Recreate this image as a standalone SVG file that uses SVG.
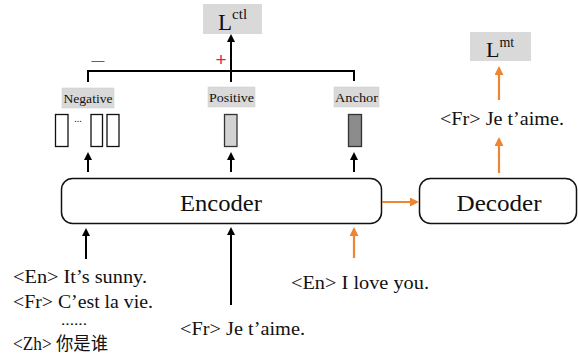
<svg xmlns="http://www.w3.org/2000/svg" width="578" height="354" viewBox="0 0 578 354">
<defs>
<style>
.t{font-family:"Liberation Serif","Noto Sans CJK SC",serif;fill:#111}
.box{fill:#fff;stroke:#111;stroke-width:1.5}
.lab{fill:#d9d9d9;stroke:#ccc;stroke-width:0.5}
.k{stroke:#000;stroke-width:2;fill:none}
.o{stroke:#EE8533;stroke-width:2.2;fill:none}
</style>
<marker id="ak" markerWidth="8" markerHeight="8" refX="6" refY="4" orient="auto" markerUnits="userSpaceOnUse" viewBox="0 0 8 8"><path d="M0,0 L8,4 L0,8 z" fill="#000"/></marker>
<marker id="ao" markerWidth="9" markerHeight="9" refX="7" refY="4.5" orient="auto" markerUnits="userSpaceOnUse" viewBox="0 0 9 9"><path d="M0,0 L9,4.5 L0,9 z" fill="#EE8533"/></marker>
</defs>
<rect width="578" height="354" fill="#fff"/>

<g id="lctl">
<rect x="203" y="4" width="59" height="30" fill="#d9d9d9"/>
<text class="t" x="218" y="30" font-size="23">L<tspan font-size="15" dy="-11">ctl</tspan></text>
</g>
<g id="lmt">
<rect x="470" y="32" width="61" height="29" fill="#d9d9d9"/>
<text class="t" x="486" y="57" font-size="22">L<tspan font-size="14" dy="-10">mt</tspan></text>
</g>

<g id="negative">
<rect class="lab" x="62" y="88" width="52" height="20"/>
<text class="t" x="88" y="103" font-size="13.5" text-anchor="middle" textLength="49" lengthAdjust="spacingAndGlyphs">Negative</text>
<rect x="55.5" y="114.5" width="12.5" height="32" fill="#fff" stroke="#111" stroke-width="1.3"/>
<text class="t" x="78" y="122" font-size="10" text-anchor="middle">...</text>
<rect x="91" y="114.5" width="11.5" height="32" fill="#fff" stroke="#111" stroke-width="1.3"/>
<rect x="107" y="114.5" width="12" height="32" fill="#fff" stroke="#111" stroke-width="1.3"/>
</g>
<g id="positive">
<rect class="lab" x="208" y="87" width="47" height="20"/>
<text class="t" x="231.5" y="102" font-size="13.5" text-anchor="middle" textLength="45" lengthAdjust="spacingAndGlyphs">Positive</text>
<rect x="224.5" y="114.5" width="12.5" height="32" fill="#d3d3d3" stroke="#333" stroke-width="1.3"/>
</g>
<g id="anchor">
<rect class="lab" x="334" y="87" width="45" height="20"/>
<text class="t" x="356.5" y="102" font-size="13.5" text-anchor="middle" textLength="43" lengthAdjust="spacingAndGlyphs">Anchor</text>
<rect x="348.5" y="114.5" width="13" height="32" fill="#8c8c8c" stroke="#333" stroke-width="1.3"/>
</g>

<g id="encoder">
<rect class="box" x="61.5" y="178.5" width="320" height="45" rx="11"/>
<text class="t" x="221" y="211" font-size="24" text-anchor="middle" textLength="82" lengthAdjust="spacingAndGlyphs">Encoder</text>
</g>
<g id="decoder">
<rect class="box" x="419.5" y="178.5" width="157" height="45" rx="11"/>
<text class="t" x="499" y="211" font-size="24" text-anchor="middle" textLength="85" lengthAdjust="spacingAndGlyphs">Decoder</text>
</g>

<g id="output-text">
<text class="t" x="440" y="125" font-size="19" textLength="124" lengthAdjust="spacingAndGlyphs">&lt;Fr&gt; Je t’aime.</text>
</g>

<g id="inputs">
<text class="t" x="13" y="283" font-size="18.5" textLength="134" lengthAdjust="spacingAndGlyphs">&lt;En&gt; It’s sunny.</text>
<text class="t" x="13" y="308" font-size="18.5" textLength="140" lengthAdjust="spacingAndGlyphs">&lt;Fr&gt; C’est la vie.</text>
<text class="t" x="74" y="325" font-size="14" text-anchor="middle" textLength="26" lengthAdjust="spacingAndGlyphs">......</text>
<text class="t" x="13" y="350" font-size="18" textLength="95" lengthAdjust="spacingAndGlyphs">&lt;Zh&gt; 你是谁</text>
<text class="t" x="180" y="335" font-size="18.5" textLength="125" lengthAdjust="spacingAndGlyphs">&lt;Fr&gt; Je t’aime.</text>
<text class="t" x="291" y="289" font-size="18.5" textLength="138" lengthAdjust="spacingAndGlyphs">&lt;En&gt; I love you.</text>
</g>

<g id="signs">
<text x="98" y="65" font-family="Liberation Sans, sans-serif" font-size="13" fill="#e8204a" text-anchor="middle">—</text>
<text x="221" y="66" font-family="Liberation Sans, sans-serif" font-size="19" fill="#e8204a" text-anchor="middle">+</text>
</g>

<g id="connectors">
<path class="k" d="M88,82 V71 H354 V81"/>
<path class="k" d="M231,82 V36" marker-end="url(#ak)"/>
<path class="k" d="M88,172 V154" marker-end="url(#ak)"/>
<path class="k" d="M231,172 V154" marker-end="url(#ak)"/>
<path class="k" d="M354,172 V154" marker-end="url(#ak)"/>
<path class="k" d="M86,259 V230" marker-end="url(#ak)"/>
<path class="k" d="M231,305 V229" marker-end="url(#ak)"/>
<path class="o" d="M354,258 V229" marker-end="url(#ao)"/>
<path class="o" d="M382,202 H417" marker-end="url(#ao)"/>
<path class="o" d="M499,173 V139" marker-end="url(#ao)"/>
<path class="o" d="M499,100 V68" marker-end="url(#ao)"/>
</g>
</svg>
